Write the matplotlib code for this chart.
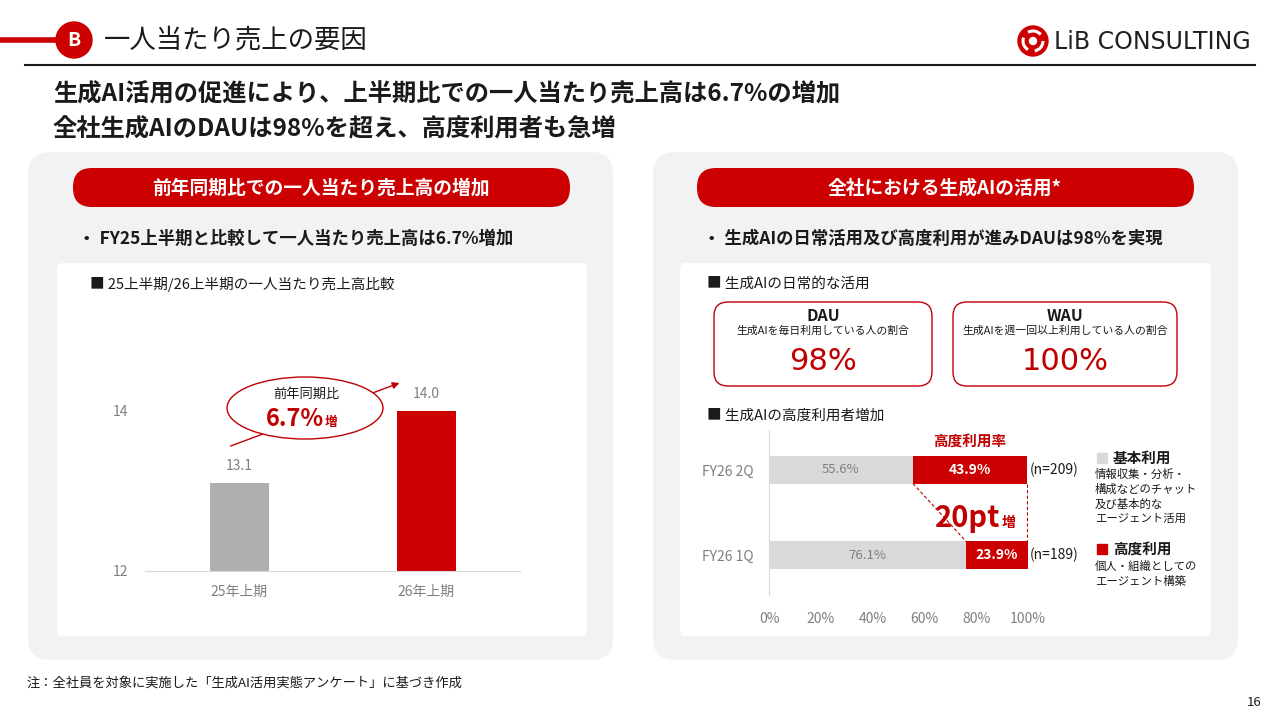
import matplotlib
matplotlib.use("Agg")
import matplotlib.pyplot as plt
from matplotlib.patches import FancyBboxPatch, Ellipse, Circle, Rectangle, Arc

plt.rcParams["font.family"] = ["Noto Sans CJK JP", "DejaVu Sans"]
plt.rcParams["axes.unicode_minus"] = False

RED = "#CC0000"
DARK_RED = "#C00000"
PANEL = "#F2F2F2"
LIGHT = "#D9D9D9"
GRAY_TXT = "#7F7F7F"
INK = "#1A1A1A"
W, H = 1280, 720

# ── data ──
periods = ["25年上期", "26年上期"]
sales = [13.1, 14.0]
growth_label = "6.7%"

quarters = ["FY26 2Q", "FY26 1Q"]
basic_pct = [55.6, 76.1]
adv_pct = [43.9, 23.9]
n_resp = [209, 189]

dau_pct = 98
wau_pct = 100


def frac(x0, y0, x1, y1):
    # pixel box (top-left origin) -> figure fraction
    return [x0 / W, 1 - y1 / H, (x1 - x0) / W, (y1 - y0) / H]


fig = plt.figure(figsize=(12.8, 7.2), dpi=100)
bg = fig.add_axes([0, 0, 1, 1], zorder=0)
bg.set_xlim(0, W)
bg.set_ylim(H, 0)
bg.axis("off")


def rbox(x0, y0, x1, y1, r, fc, ec="none", lw=0, z=1):
    bg.add_patch(FancyBboxPatch((x0, y0), x1 - x0, y1 - y0,
                                boxstyle=f"round,pad=0,rounding_size={r}",
                                fc=fc, ec=ec, lw=lw, zorder=z))


# ── header ──
bg.plot([0, 58], [40, 40], color=RED, lw=4, solid_capstyle="butt")
bg.add_patch(Circle((74, 40), 18, color=RED, zorder=2))
bg.text(74, 41, "B", color="white", fontsize=14, weight="bold", ha="center", va="center", zorder=3)
bg.text(104, 40, "一人当たり売上の要因", fontsize=19, color=INK, va="center")
bg.plot([25, 1255], [65, 65], color=INK, lw=1.5)

# logo
bg.add_patch(Circle((1033, 41), 15, color=RED, zorder=2))
for ang in (0, 120, 240):
    bg.add_patch(Arc((1033, 41), 20, 20, angle=ang, theta1=0, theta2=80, color="white", lw=2.2, zorder=3))
bg.add_patch(Circle((1033, 41), 3.5, color="white", zorder=3))
bg.text(1054, 42, "LiB CONSULTING", fontsize=17, color="#231F20", va="center", family="DejaVu Sans")

bg.text(53, 94, "生成AI活用の促進により、上半期比での一人当たり売上高は6.7%の増加",
        fontsize=17.5, weight="bold", color=INK, va="center")
bg.text(53, 129, "全社生成AIのDAUは98%を超え、高度利用者も急増",
        fontsize=17.5, weight="bold", color=INK, va="center")

# ── panels ──
rbox(28, 152, 613, 660, 22, PANEL)
rbox(653, 152, 1238, 660, 22, PANEL)
rbox(57, 263, 587, 636, 6, "white", z=1.5)
rbox(680, 263, 1211, 636, 6, "white", z=1.5)

rbox(73, 168, 570, 207, 19, RED, z=2)
rbox(697, 168, 1194, 207, 19, RED, z=2)
bg.text(321, 188, "前年同期比での一人当たり売上高の増加", color="white", fontsize=13.5,
        weight="bold", ha="center", va="center", zorder=3)
bg.text(945, 188, "全社における生成AIの活用*", color="white", fontsize=13.5,
        weight="bold", ha="center", va="center", zorder=3)

bg.text(78, 239, "・ FY25上半期と比較して一人当たり売上高は6.7%増加", fontsize=12.5,
        weight="bold", color=INK, va="center")
bg.text(703, 239, "・ 生成AIの日常活用及び高度利用が進みDAUは98%を実現", fontsize=12.5,
        weight="bold", color=INK, va="center")

bg.text(90, 284, "■ 25上半期/26上半期の一人当たり売上高比較", fontsize=10.5, color=INK,
        va="center", zorder=3)
bg.text(707, 284, "■ 生成AIの日常的な活用", fontsize=10.5, color=INK, va="center", zorder=3)
bg.text(707, 416, "■ 生成AIの高度利用者増加", fontsize=10.5, color=INK, va="center", zorder=3)

# ── left chart: 一人当たり売上高 ──
ax1 = fig.add_axes(frac(145, 291, 520, 571), zorder=2)
ax1.patch.set_alpha(0)
xs = list(range(len(periods)))
ax1.bar(xs, sales, width=0.316, color=["#AFAFAF", RED])
for i, v in zip(xs, sales):
    ax1.annotate(f"{v:.1f}", (i, v), xytext=(0, 7), textcoords="offset points",
                 ha="center", va="bottom", fontsize=10, color=GRAY_TXT)
ax1.set_ylim(12, 15.5)
ax1.set_yticks([12, 14])
ax1.set_xlim(-0.505, 1.5)
ax1.set_xticks(xs)
ax1.set_xticklabels(periods)
ax1.spines[["top", "right", "left"]].set_visible(False)
ax1.spines["bottom"].set_color(LIGHT)
ax1.tick_params(length=0, labelsize=10, labelcolor=GRAY_TXT)
ax1.tick_params(axis="y", pad=12)
ax1.tick_params(axis="x", pad=10)

# callout: 前年同期比 6.7%増
bg.annotate("", xy=(402, 382), xytext=(228, 447), zorder=3,
            arrowprops=dict(arrowstyle="-|>", color=DARK_RED, lw=1, mutation_scale=10))
bg.add_patch(Ellipse((305, 408), 156, 62, fc="white", ec=DARK_RED, lw=1, zorder=4))
bg.text(306, 394, "前年同期比", fontsize=9.5, color=INK, ha="center", va="center", zorder=5)
bg.text(324, 426, growth_label, fontsize=17, weight="bold", color=DARK_RED, ha="right",
        va="baseline", zorder=5)
bg.text(325, 426, "増", fontsize=9, weight="bold", color=DARK_RED, ha="left",
        va="baseline", zorder=5)

# ── right top: DAU / WAU ──
for (x0, x1, head, desc, pct) in [
        (714, 932, "DAU", "生成AIを毎日利用している人の割合", dau_pct),
        (953, 1177, "WAU", "生成AIを週一回以上利用している人の割合", wau_pct)]:
    rbox(x0, 302, x1, 386, 14, "white", ec=DARK_RED, lw=1, z=2)
    cx = (x0 + x1) / 2
    bg.text(cx, 316, head, fontsize=11.5, weight="bold", color=INK, ha="center", va="center", zorder=3)
    bg.text(cx, 331, desc, fontsize=7.8, color=INK, ha="center", va="center", zorder=3)
    bg.text(cx, 362, f"{pct}%", fontsize=22, color=DARK_RED, ha="center", va="center",
            zorder=3, family="DejaVu Sans")

# ── right bottom: 高度利用率 ──
ax2 = fig.add_axes(frac(769, 430, 1028, 595), zorder=2)
ax2.patch.set_alpha(0)
ypos = [1, 0]
ax2.barh(ypos, basic_pct, height=0.32, color=LIGHT)
ax2.barh(ypos, adv_pct, left=basic_pct, height=0.32, color=RED)
for y, b, a, n in zip(ypos, basic_pct, adv_pct, n_resp):
    ax2.text(b / 2, y, f"{b:.1f}%", ha="center", va="center", fontsize=9.5, color=GRAY_TXT)
    ax2.text(b + a / 2, y, f"{a:.1f}%", ha="center", va="center", fontsize=10,
             color="white", weight="bold")
    ax2.text(100.8, y, f"(n={n})", ha="left", va="center", fontsize=10, color=INK, clip_on=False)
# 増加の点線
ax2.plot([basic_pct[0], basic_pct[1]], [ypos[0] - 0.16, ypos[1] + 0.16], color=DARK_RED,
         lw=0.8, ls=(0, (3, 2)))
top_end = basic_pct[0] + adv_pct[0]
ax2.plot([top_end, top_end], [ypos[0] - 0.16, ypos[1] + 0.16], color=DARK_RED,
         lw=0.8, ls=(0, (3, 2)))
ax2.text(basic_pct[0] + adv_pct[0] / 2, ypos[0] + 0.34, "高度利用率", ha="center",
         va="center", fontsize=10.5, color=DARK_RED, weight="bold")
diff = adv_pct[0] - adv_pct[1]
ax2.text(89.5, 0.33, f"{diff:.0f}pt", ha="right", va="baseline", fontsize=21, weight="bold",
         color=DARK_RED)
ax2.text(89.8, 0.33, "増", ha="left", va="baseline", fontsize=10, weight="bold", color=DARK_RED)

ax2.set_xlim(0, 100)
ax2.set_ylim(-0.47, 1.47)
ax2.set_xticks([0, 20, 40, 60, 80, 100])
ax2.set_xticklabels([f"{t}%" for t in [0, 20, 40, 60, 80, 100]])
ax2.set_yticks(ypos)
ax2.set_yticklabels(quarters)
ax2.spines[["top", "right", "bottom"]].set_visible(False)
ax2.spines["left"].set_color(LIGHT)
ax2.tick_params(length=0, labelsize=10, labelcolor=GRAY_TXT)
ax2.tick_params(axis="x", pad=12)
ax2.tick_params(axis="y", pad=11)

# legend
bg.add_patch(Rectangle((1097, 453), 10, 10, color=LIGHT, zorder=3))
bg.text(1113, 458, "基本利用", fontsize=10.5, weight="bold", color=INK, va="center", zorder=3)
for k, line in enumerate(["情報収集・分析・", "構成などのチャット", "及び基本的な", "エージェント活用"]):
    bg.text(1095, 474 + 15 * k, line, fontsize=8.2, color=INK, va="center", zorder=3)
bg.add_patch(Rectangle((1097, 544), 10, 10, color=RED, zorder=3))
bg.text(1113, 549, "高度利用", fontsize=10.5, weight="bold", color=INK, va="center", zorder=3)
for k, line in enumerate(["個人・組織としての", "エージェント構築"]):
    bg.text(1095, 566 + 15 * k, line, fontsize=8.2, color=INK, va="center", zorder=3)

# footer
bg.text(27, 683, "注：全社員を対象に実施した「生成AI活用実態アンケート」に基づき作成",
        fontsize=9.5, color=INK, va="center")
bg.text(1262, 703, "16", fontsize=9.5, color=INK, ha="right", va="center")

fig.savefig("out.png", dpi=100, facecolor="white")
